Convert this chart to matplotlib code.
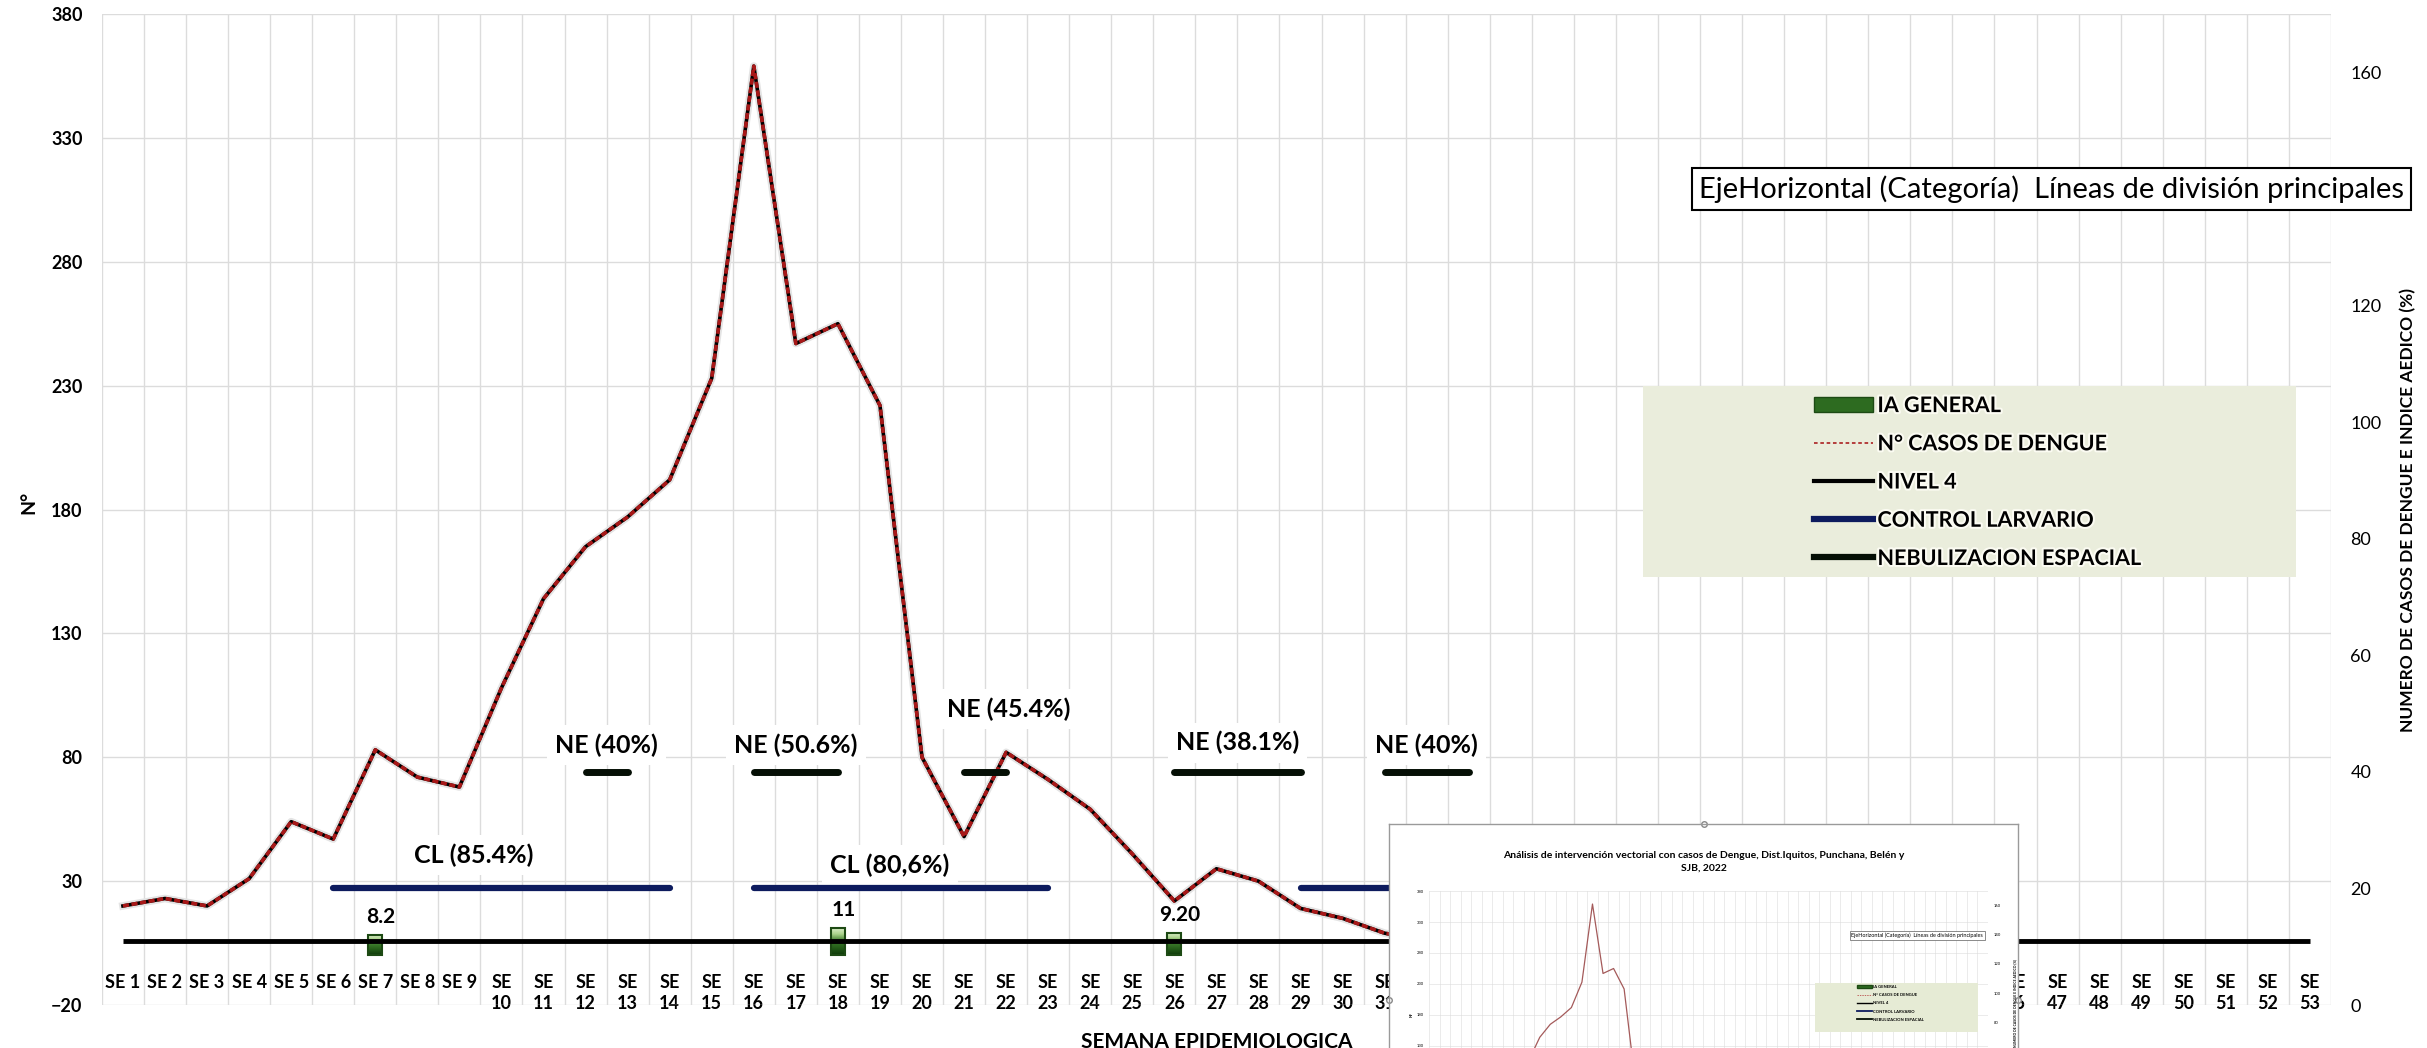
import matplotlib
matplotlib.use("Agg")
import matplotlib.pyplot as plt
import matplotlib.patheffects as pe
import numpy as np
from matplotlib.colors import LinearSegmentedColormap
from matplotlib.lines import Line2D
from matplotlib.patches import Patch, Rectangle

plt.rcParams['font.family'] = ['Lato', 'DejaVu Sans']

# ---- data ----
weeks = list(range(1, 54))
week_labels = ["SE " + str(w) if w < 10 else "SE\n" + str(w) for w in weeks]

dengue_weeks = list(range(1, 33))
dengue_cases = [20, 23, 20, 31, 54, 47, 83, 72, 68, 108, 144, 165, 177, 192, 233, 359,
                247, 255, 222, 80, 48, 82, 71, 59, 41, 22, 35, 30, 19, 15, 9, 6]

ia_weeks = [7, 18, 26]
ia_values = [8.2, 11, 9.2]
ia_labels = ["8.2", "11", "9.20"]

nivel4 = 6

cl_level = 20
cl_start = [6, 16, 29]
cl_end = [14, 23, 36]
cl_labels = ["CL (85.4%)", "CL (80,6%)"]

ne_level = 40
ne_start = [12, 16, 21, 26, 31]
ne_end = [13, 18, 22, 29, 33]
ne_labels = ["NE (40%)", "NE (50.6%)", "NE (45.4%)", "NE (38.1%)", "NE (40%)"]

left_ticks = list(range(-20, 381, 50))
right_ticks = list(range(0, 161, 20))

legend_labels = ["IA GENERAL", "N° CASOS DE DENGUE", "NIVEL 4", "CONTROL LARVARIO",
                 "NEBULIZACION ESPACIAL"]
inset_title = ("Análisis de intervención vectorial con casos de Dengue, Dist.Iquitos, "
               "Punchana, Belén y\nSJB, 2022")
tooltip = "EjeHorizontal (Categoría)  Líneas de división principales"

GRID = "#dcdcdc"
NAVY = "#0d1b5e"
NEBU = "#050f05"
RED = "#a81818"

# label offsets (points) relative to the middle of each segment
ne_offsets = [(0, 19), (0, 19), (17, 45), (0, 21), (0, 19)]
cl_offsets = [(-20, 24), (-8, 17)]

fig = plt.figure(figsize=(24.27, 10.48), dpi=100)
ax = fig.add_axes([0.0420, 0.0410, 0.9184, 0.9456])


def draw_chart(ax, ax2, small=False):
    k = 0.3 if small else 1.0
    glw = 0.4 if small else 1.0
    ax.set_xticks(np.arange(0.5, 54, 1), minor=True)
    ax.grid(which='minor', axis='x', color=GRID, lw=glw)
    ax.grid(which='major', axis='y', color=GRID, lw=glw)
    ax.grid(which='major', axis='x', visible=False)
    ax.set_axisbelow(True)
    for s in ax.spines.values():
        s.set_visible(False)
    for s in ax2.spines.values():
        s.set_visible(False)

    # IA GENERAL columns with a green gradient
    bars = ax.bar(ia_weeks, ia_values, width=0.33, facecolor='none',
                  edgecolor='#1d4a14', lw=1.5 * k, zorder=3.5)
    bar_cmap = LinearSegmentedColormap.from_list(
        "ia", ["#0f3a0a", "#245c18", "#3a7a2a", "#a9d28a", "#e3f2d2"])
    grad = np.linspace(0, 1, 64).reshape(-1, 1)
    for patch in bars:
        x0, y0 = patch.get_xy()
        w, h = patch.get_width(), patch.get_height()
        im = ax.imshow(grad, extent=[x0, x0 + w, y0, y0 + h], origin='lower',
                       aspect='auto', cmap=bar_cmap, zorder=3)
        im.set_clip_path(patch)

    # NIVEL 4
    ax.hlines(nivel4, weeks[0], weeks[-1], color='black', lw=3.5 * k, zorder=4)

    # dengue cases: red dashes over a dark line
    if small:
        ax.plot(dengue_weeks, dengue_cases, color='#a45a5a', lw=0.9, zorder=5)
    else:
        ax.plot(dengue_weeks, dengue_cases, color='black', lw=2.6, zorder=5,
                path_effects=[pe.Stroke(linewidth=5.5, foreground='#e4e4e4'), pe.Normal()])
        ax.plot(dengue_weeks, dengue_cases, color=RED, lw=2.6, dashes=(1.7, 0.7), zorder=6)

    ax.set_xlim(0.5, 53.5)
    ax.set_ylim(-20, 380)
    ax.set_yticks(left_ticks)

    # right axis: control larvario and nebulizacion espacial
    for s, e in zip(cl_start, cl_end):
        ax2.plot([s, e], [cl_level, cl_level], color=NAVY, lw=4.5 * k,
                 solid_capstyle='round', zorder=3)
    for s, e in zip(ne_start, ne_end):
        ax2.plot([s, e], [ne_level, ne_level], color=NEBU, lw=5 * k,
                 solid_capstyle='round', zorder=3)
    ax2.set_ylim(0, 170)
    ax2.set_yticks(right_ticks)
    return bars


ax2 = ax.twinx()
bars = draw_chart(ax, ax2)

# bottom category axis sits at 0 on the left scale
ax.spines['bottom'].set_position(('data', 0))
ax.set_xticks(weeks)
ax.set_xticklabels(week_labels, fontsize=13, fontweight='bold', linespacing=1.3)
ax.tick_params(axis='x', which='both', length=0, pad=13)
ax.tick_params(axis='y', length=0, pad=14, labelsize=13)
for t in ax.get_yticklabels():
    t.set_fontweight('bold')
ax2.tick_params(axis='y', length=0, pad=14, labelsize=13)

ax.set_xlabel("SEMANA EPIDEMIOLOGICA", fontsize=15, fontweight='bold')
ax.xaxis.set_label_coords(0.5, -0.037)
ax.xaxis.label.set_verticalalignment('center')
ax.set_ylabel("N°", fontsize=14, fontweight='bold')
ax.yaxis.set_label_coords(-0.033, 0.507)
ax.yaxis.label.set_verticalalignment('center')
ax2.set_ylabel("NUMERO DE CASOS DE DENGUE E INDICE AEDICO (%)", fontsize=12.5,
               fontweight='bold')
ax2.yaxis.set_label_coords(1.0345, 0.50)
ax2.yaxis.label.set_verticalalignment('center')

# value labels
for wk, val, lab in zip(ia_weeks, ia_values, ia_labels):
    ax.annotate(lab, xy=(wk, val), xytext=(4, 13), textcoords='offset points',
                ha='center', va='center', fontsize=15, fontweight='bold', zorder=7)

box = dict(facecolor='white', edgecolor='none', pad=6)
for s, e, lab, off in zip(ne_start, ne_end, ne_labels, ne_offsets):
    ax2.annotate(lab, xy=((s + e) / 2, ne_level), xytext=off, textcoords='offset points',
                 ha='center', va='center', fontsize=18, fontweight='bold', bbox=box, zorder=2)
for s, e, lab, off in zip(cl_start, cl_end, cl_labels, cl_offsets):
    ax2.annotate(lab, xy=((s + e) / 2, cl_level), xytext=off, textcoords='offset points',
                 ha='center', va='center', fontsize=18, fontweight='bold', bbox=box, zorder=2)

# legend on a pale green panel
fig.add_artist(Rectangle((0.677, 0.4494), 0.269, 0.1823, transform=fig.transFigure,
                         facecolor='#eaeddc', edgecolor='none', zorder=4))
handles = [Patch(facecolor='#2d6b20', edgecolor='#1d4a14'),
           Line2D([], [], color='#b03030', lw=1.3, dashes=(2, 1.5)),
           Line2D([], [], color='black', lw=3),
           Line2D([], [], color=NAVY, lw=4.5),
           Line2D([], [], color=NEBU, lw=4.5)]
leg = fig.legend(handles, legend_labels, loc='upper left', bbox_to_anchor=(0.7474, 0.623),
                 frameon=False, borderpad=0, borderaxespad=0, handlelength=2.75,
                 handletextpad=0.2, labelspacing=0.8, prop={'size': 15.5, 'weight': 'bold'})
leg.set_zorder(5)
for t in leg.get_texts():
    t.set_path_effects([pe.withStroke(linewidth=3, foreground='#fbfbf2')])

# chart element tooltip (it hides the 140 tick, as in the source picture)
fig.text(0.8452, 0.8197, tooltip, ha='center', va='center', fontsize=21, zorder=6,
         bbox=dict(facecolor='white', edgecolor='black', lw=1.5, boxstyle='square,pad=0.25'))

# ---- thumbnail of the chart pasted over the bottom right ----
ax_f = fig.add_axes([0.5723, -0.1069, 0.2592, 0.3206], zorder=10)
ax_f.set_facecolor('white')
ax_f.set_xticks([])
ax_f.set_yticks([])
for s in ax_f.spines.values():
    s.set_color('#9a9a9a')
    s.set_linewidth(1)
ax_f.plot([0.5, 0, 1], [1, 0.476, 0.476], 'o', ms=4, mfc='white', mec='#888888',
          transform=ax_f.transAxes, clip_on=False)
ax_f.text(0.5, 0.887, inset_title, transform=ax_f.transAxes, ha='center', va='center',
          fontsize=7.5, fontweight='bold', linespacing=1.5)

ax_m = fig.add_axes([0.5888, -0.0868, 0.2303, 0.2366], zorder=11)
ax_m2 = ax_m.twinx()
ax_m2.set_zorder(12)
draw_chart(ax_m, ax_m2, small=True)
ax_m.set_xticks([])
# only the upper part of the thumbnail is inside the picture
ax_m.set_yticks([t for t in left_ticks if t >= 130])
ax_m2.set_yticks([t for t in right_ticks if t >= 80])
ax_m.tick_params(axis='y', length=0, pad=4, labelsize=3)
ax_m2.tick_params(axis='y', length=0, pad=4, labelsize=3)
ax_m.set_ylabel("N°", fontsize=3, fontweight='bold', labelpad=2)
ax_m2.set_ylabel("NUMERO DE CASOS DE DENGUE E INDICE AEDICO (%)", fontsize=2.4,
                 fontweight='bold')
ax_m2.yaxis.set_label_coords(1.045, 0.55)
ax_m2.text(0.7899, 0.1073, tooltip, transform=fig.transFigure, ha='center', va='center',
           fontsize=4, clip_on=False,
           bbox=dict(facecolor='white', edgecolor='#777777', lw=0.6, boxstyle='square,pad=0.3'))
ax_m2.add_artist(Rectangle((0.7478, 0.0153), 0.0672, 0.0468, transform=fig.transFigure,
                           facecolor='#e6ebd5', edgecolor='none', clip_on=False, zorder=4))
mini_handles = [Patch(facecolor='#2d6b20', edgecolor='#1d4a14'),
                Line2D([], [], color='#b03030', lw=0.5, dashes=(2, 1.5)),
                Line2D([], [], color='black', lw=1),
                Line2D([], [], color=NAVY, lw=1.3),
                Line2D([], [], color=NEBU, lw=1.3)]
mleg = ax_m2.legend(mini_handles, legend_labels, loc='upper left',
                    bbox_to_anchor=(0.7652, 0.0601), bbox_transform=fig.transFigure,
                    frameon=False, borderpad=0, borderaxespad=0, handlelength=3.5,
                    handletextpad=0.4, labelspacing=1.0, prop={'size': 3, 'weight': 'bold'})
mleg.set_zorder(5)

fig.savefig("out.png", dpi=100)
